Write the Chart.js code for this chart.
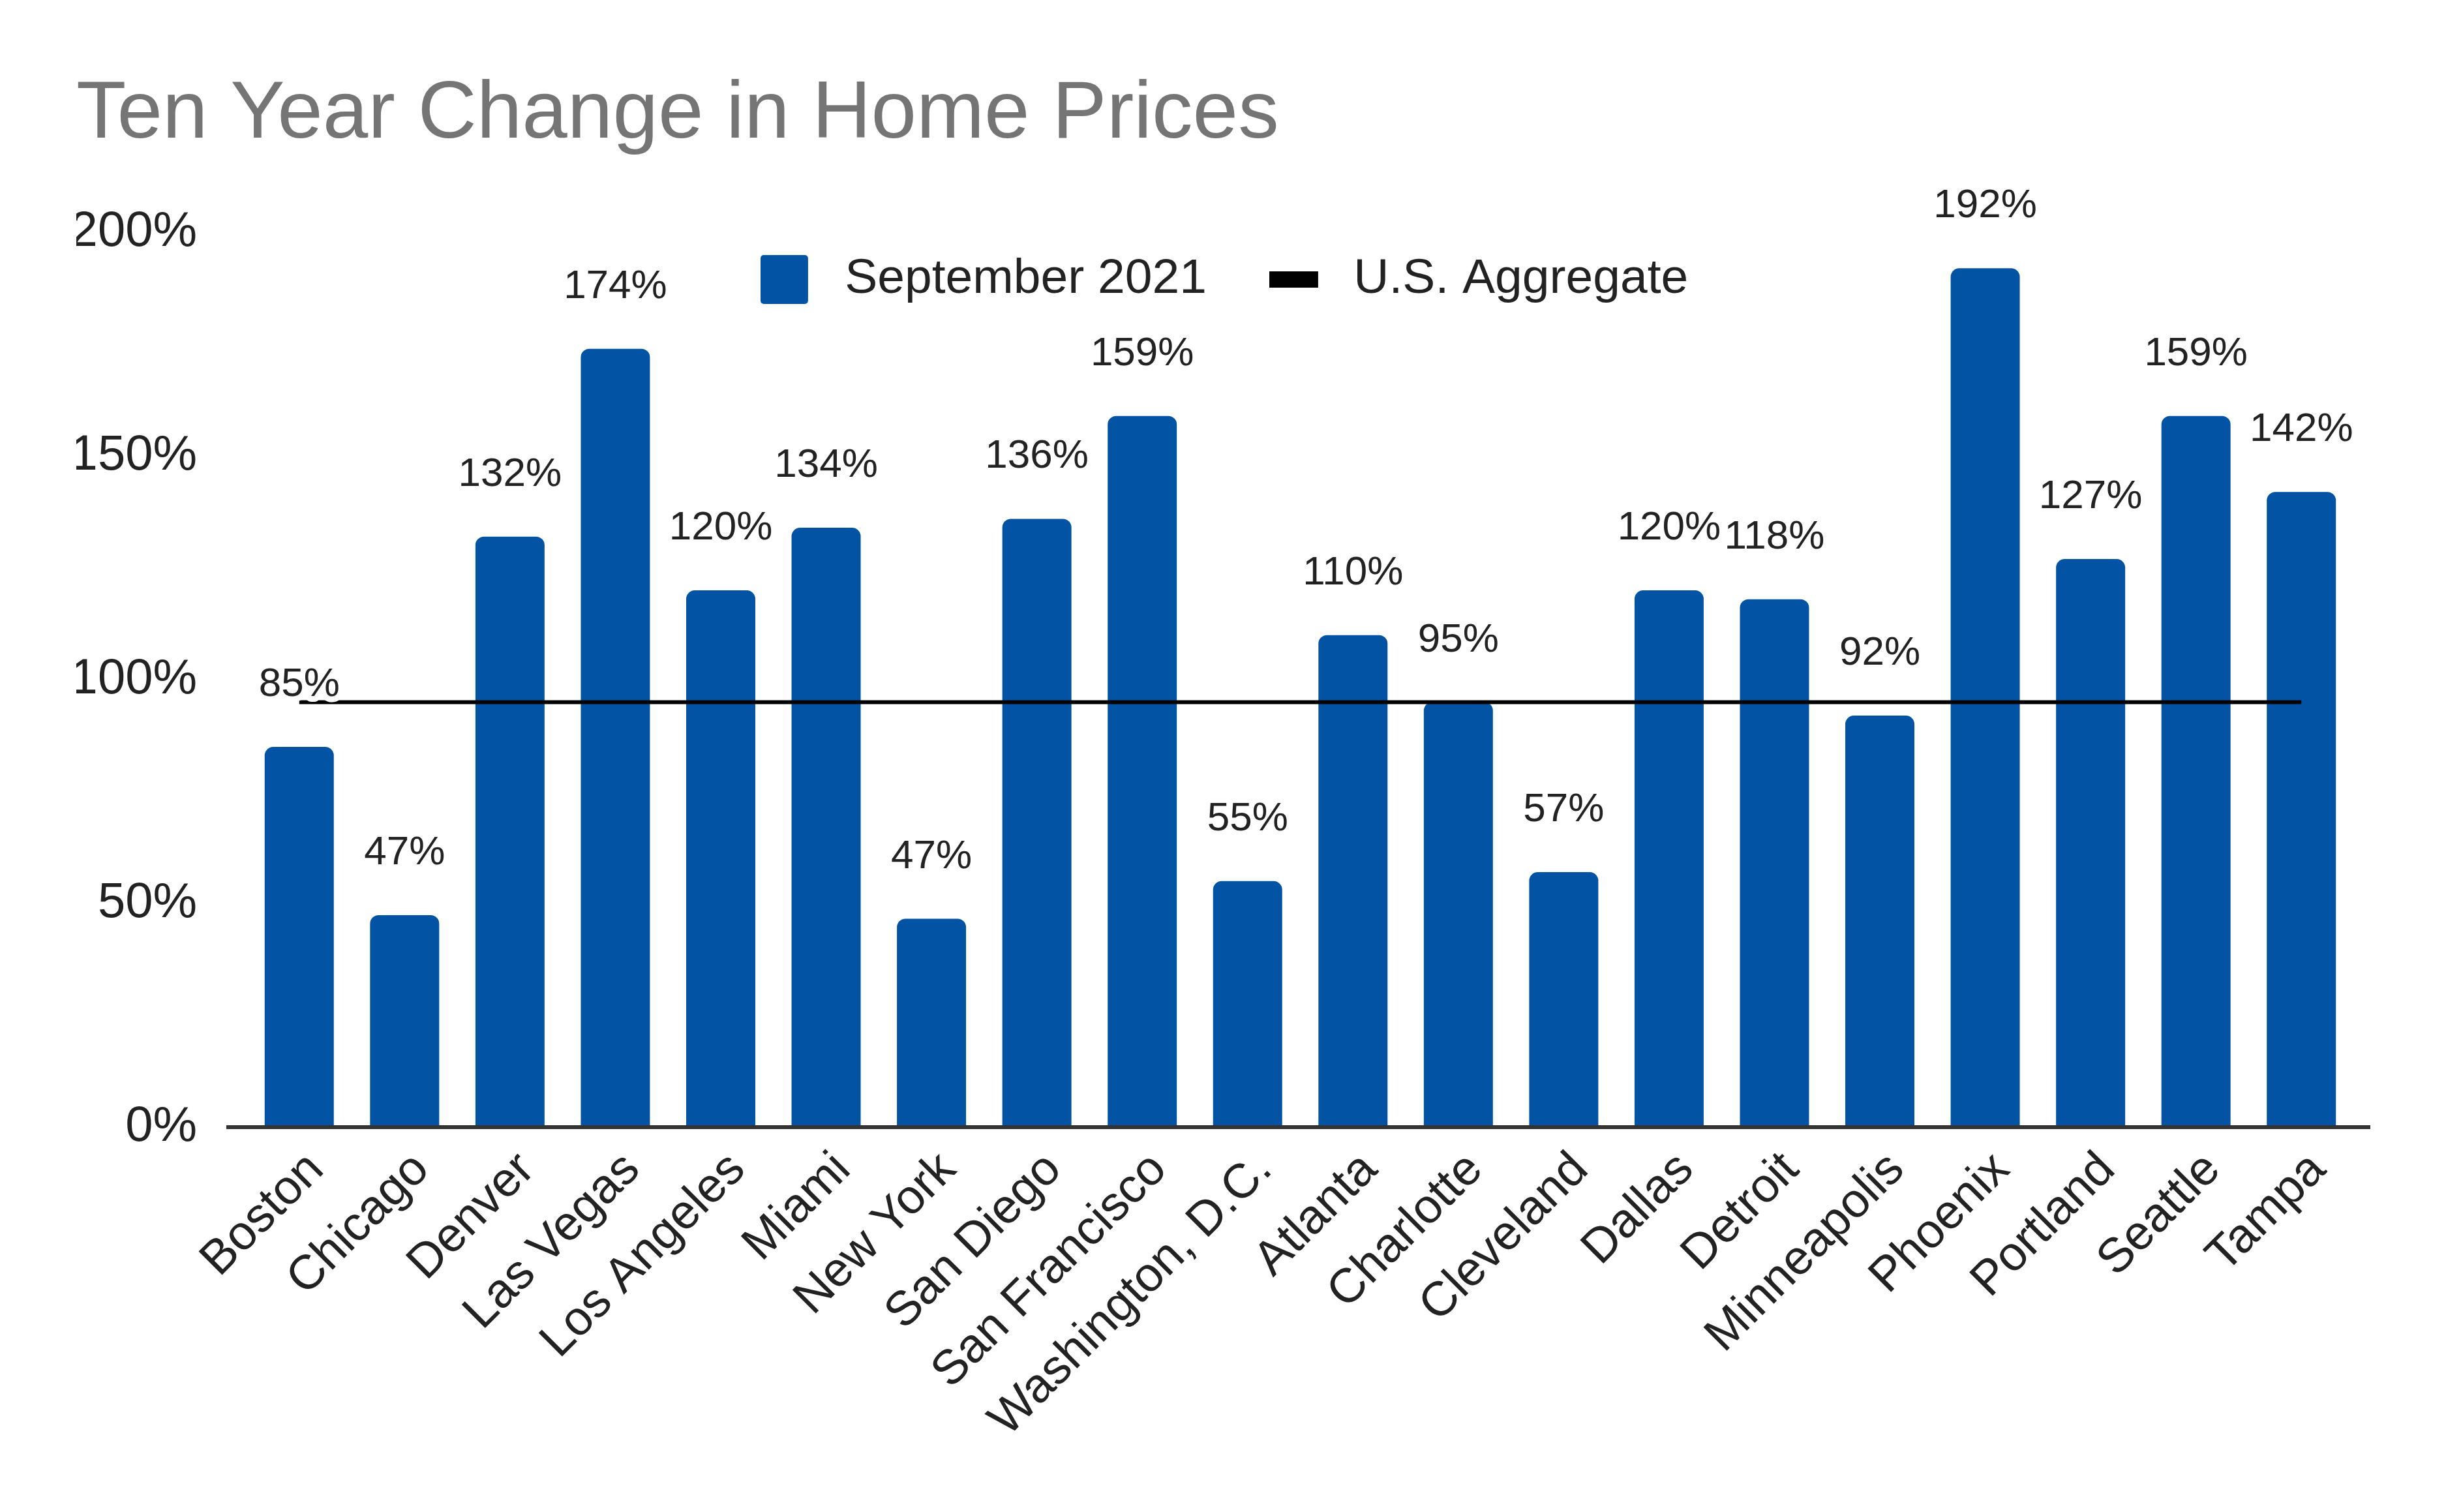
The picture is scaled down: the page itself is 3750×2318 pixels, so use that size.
<!DOCTYPE html>
<html>
<head>
<meta charset="utf-8">
<script src="https://cdn.jsdelivr.net/npm/chart.js@4.4.1/dist/chart.umd.min.js"></script>
<style>
  html, body { margin: 0; padding: 0; background: #ffffff; }
  #wrap { width: 3750px; height: 2318px; }
</style>
</head>
<body>
<div id="wrap"><canvas id="chart" width="3750" height="2318"></canvas></div>
<script>
// ─────────────────────────────────────────
// DATA
// ─────────────────────────────────────────
const CITIES = [
  'Boston', 'Chicago', 'Denver', 'Las Vegas', 'Los Angeles', 'Miami',
  'New York', 'San Diego', 'San Francisco', 'Washington, D.C.', 'Atlanta',
  'Charlotte', 'Cleveland', 'Dallas', 'Detroit', 'Minneapolis', 'Phoenix',
  'Portland', 'Seattle', 'Tampa',
];
const SEPT_2021 = [
  85, 47.4, 132, 174, 120, 134, 46.6, 136, 159, 55, 110,
  95, 57, 120, 118, 92, 192, 127, 159, 142,
];
const US_AGGREGATE = [
  95, 95, 95, 95, 95, 95, 95, 95, 95, 95,
  95, 95, 95, 95, 95, 95, 95, 95, 95, 95,
];
const Y_TICKS = [0, 50, 100, 150, 200];
const SERIES_NAMES = ['September 2021', 'U.S. Aggregate'];
const TITLE = 'Ten Year Change in Home Prices';

// ─────────────────────────────────────────
// STYLE
// ─────────────────────────────────────────
const FONT = "'Liberation Sans', Arial, sans-serif";
const COLORS = {
  bar: '#0353a4',
  line: '#000000',
  text: '#222222',
  title: '#757575',
  axis: '#333333',
};

// legend markers: square for bars, thick dash for the line
function makeMark(draw) {
  const c = document.createElement('canvas');
  c.width = 92;
  c.height = 75;
  draw(c.getContext('2d'));
  return c;
}
const LEGEND_MARKS = [
  makeMark(ctx => {
    ctx.fillStyle = COLORS.bar;
    ctx.beginPath();
    ctx.roundRect(0, 0, 73, 75, 5);
    ctx.fill();
  }),
  makeMark(ctx => {
    ctx.fillStyle = COLORS.line;
    ctx.fillRect(0, 25, 75, 25);
  }),
];

// ─────────────────────────────────────────
// PLUGINS
// ─────────────────────────────────────────
// the legend overlaps the top of the plot: reserve little room for it in
// the layout, then give its box back its real height so nothing is clipped
const legendOverlap = {
  id: 'legendOverlap',
  beforeInit(chart) {
    const fit = chart.legend.fit;
    chart.legend.fit = function () {
      fit.call(this);
      this.height = 61.5;
    };
  },
  afterLayout(chart) {
    const lg = chart.legend;
    lg.height = 300;
    lg.bottom = lg.top + 300;
    lg.left += 14;
    lg.right += 14;
  },
};

const baseline = {
  id: 'baseline',
  afterDatasetsDraw(chart) {
    const { ctx, chartArea, scales } = chart;
    const y = scales.y.getPixelForValue(0);
    ctx.save();
    ctx.strokeStyle = COLORS.axis;
    ctx.lineWidth = 6;
    ctx.beginPath();
    ctx.moveTo(chartArea.left - 31, y);
    ctx.lineTo(chartArea.right + 25, y);
    ctx.stroke();
    ctx.restore();
  },
};

const barLabels = {
  id: 'barLabels',
  afterDatasetsDraw(chart) {
    const { ctx } = chart;
    const meta = chart.getDatasetMeta(0);
    ctx.save();
    ctx.font = `62px ${FONT}`;
    ctx.textAlign = 'center';
    ctx.textBaseline = 'middle';
    ctx.lineJoin = 'round';
    meta.data.forEach((bar, i) => {
      const txt = `${Math.round(SEPT_2021[i])}%`;
      const y = bar.y - 95;
      ctx.strokeStyle = '#ffffff';
      ctx.lineWidth = 18;
      ctx.strokeText(txt, bar.x, y);
      ctx.fillStyle = COLORS.text;
      ctx.fillText(txt, bar.x, y);
    });
    ctx.restore();
  },
};

// ─────────────────────────────────────────
// CHART
// ─────────────────────────────────────────
new Chart(document.getElementById('chart'), {
  type: 'bar',
  data: {
    labels: CITIES,
    datasets: [
      {
        type: 'bar',
        label: SERIES_NAMES[0],
        data: SEPT_2021,
        backgroundColor: COLORS.bar,
        borderRadius: 13,
        borderSkipped: 'start',
        barPercentage: 0.656,
        categoryPercentage: 1.0,
        order: 2,
      },
      {
        type: 'line',
        label: SERIES_NAMES[1],
        data: US_AGGREGATE,
        borderColor: COLORS.line,
        backgroundColor: COLORS.line,
        borderWidth: 6,
        pointRadius: 0,
        tension: 0,
        fill: false,
        order: 1,
      },
    ],
  },
  options: {
    responsive: false,
    devicePixelRatio: 1,
    animation: false,
    events: [],
    layout: { padding: { left: 117, right: 141, top: 0, bottom: 0 } },
    plugins: {
      title: {
        display: true,
        text: TITLE,
        align: 'start',
        color: COLORS.title,
        font: { family: FONT, size: 125, weight: 'normal', lineHeight: 1.2 },
        padding: { top: 102, bottom: 43 },
      },
      legend: {
        display: true,
        position: 'top',
        align: 'center',
        labels: {
          usePointStyle: true,
          pointStyleWidth: 92,
          padding: 96,
          color: COLORS.text,
          font: { family: FONT, size: 75 },
          sort: (a, b) => a.datasetIndex - b.datasetIndex,
          generateLabels(chart) {
            const items = Chart.defaults.plugins.legend.labels.generateLabels(chart);
            items.forEach(it => { it.pointStyle = LEGEND_MARKS[it.datasetIndex]; });
            return items;
          },
        },
      },
      tooltip: { enabled: false },
    },
    scales: {
      x: {
        type: 'category',
        offset: true,
        grid: { display: false, drawTicks: false },
        border: { display: false },
        ticks: {
          autoSkip: false,
          maxRotation: 45,
          minRotation: 45,
          padding: 22,
          labelOffset: 26,
          color: COLORS.text,
          font: { family: FONT, size: 74 },
        },
        afterFit(axis) { axis.height = 590; },
      },
      y: {
        min: Y_TICKS[0],
        max: Y_TICKS[Y_TICKS.length - 1],
        grid: { display: false, drawTicks: false },
        border: { display: false },
        afterBuildTicks(axis) { axis.ticks = Y_TICKS.map(v => ({ value: v })); },
        ticks: {
          padding: 76,
          color: COLORS.text,
          font: { family: FONT, size: 76 },
          callback: v => `${v}%`,
        },
        afterFit(axis) { axis.width = 261; },
      },
    },
  },
  plugins: [legendOverlap, baseline, barLabels],
});
</script>
</body>
</html>
